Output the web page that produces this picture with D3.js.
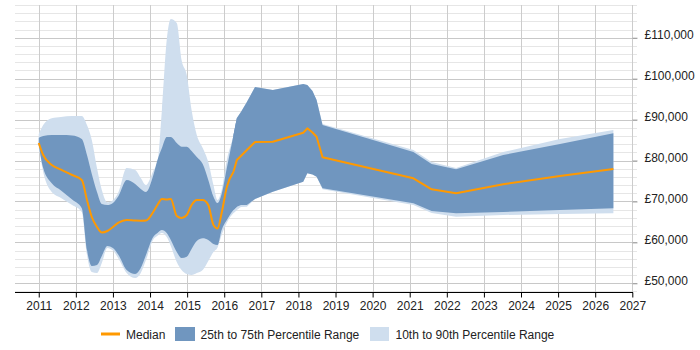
<!DOCTYPE html>
<html><head><meta charset="utf-8">
<script src="https://cdn.jsdelivr.net/npm/d3@7"></script>
<style>body{margin:0;background:#fff;} svg{display:block;font-family:"Liberation Sans",Arial,sans-serif;}</style>
</head><body><svg id="c" width="700" height="350"></svg>
<script>
const years = [2011.0, 2011.12, 2011.35, 2011.6, 2011.9, 2012.16, 2012.3, 2012.43, 2012.57, 2012.7, 2012.85, 2013.0, 2013.15, 2013.37, 2013.6, 2013.75, 2013.89, 2014.09, 2014.2, 2014.32, 2014.45, 2014.56, 2014.72, 2014.85, 2014.99, 2015.12, 2015.26, 2015.42, 2015.57, 2015.71, 2015.82, 2015.93, 2016.07, 2016.25, 2016.34, 2016.45, 2016.61, 2016.83, 2017.31, 2018.13, 2018.24, 2018.38, 2018.49, 2018.65, 2021.1, 2021.59, 2022.25, 2023.52, 2025.05, 2026.49];
const median = [84280,81340,78900,77780,76460,75240,70360,66200,63750,62400,62780,63750,64800,65460,65340,65300,65340,67490,69130,70600,70470,70600,66440,65950,66690,69130,70350,70350,69130,64240,63390,67170,73530,77260,80120,81100,82560,84520,84590,86790,87870,86840,85810,80780,75650,72960,71990,74190,76210,77920];
const p75 = [85570,85990,86230,86230,86110,85250,81340,76700,72300,69370,69130,69620,71330,75240,74260,73040,72300,76460,80120,83050,85740,85740,84270,83370,83370,82320,80860,79140,75240,71160,69620,71820,78170,86230,90380,91850,94290,97960,97220,98690,98440,96980,94780,88670,82080,79140,77850,81340,84030,86650];
const p25 = [83790,78170,74430,72670,70470,68320,58140,54230,54470,56670,59110,58620,56910,53250,52270,53740,56910,61380,62290,63020,62290,60580,57650,56180,56500,58380,60330,60990,60580,59600,59360,63020,65460,67910,68710,69130,69130,70600,72380,74820,76870,76580,76040,73210,69540,67660,67100,67420,67910,68320];
const p90 = [86470,88670,90310,90630,90870,90870,88670,85010,78170,72790,69800,70300,72300,78170,77680,75730,74010,77500,79630,92340,109440,114570,113590,104550,100890,92340,86230,83050,79630,74010,70350,72790,80120,86230,90380,91850,94290,97960,97220,98690,98440,96980,94780,88910,82570,79630,78170,82080,85260,87450];
const p10 = [83300,77190,72300,70840,69130,67420,57000,52760,52520,54960,58620,58000,56000,52520,51300,52520,55690,60700,61600,62300,61300,59110,55200,53250,52270,52030,52520,53250,55450,57650,58750,61800,64800,67170,67910,68640,68700,70600,72380,74820,76870,76580,76040,72960,69130,67170,66270,66690,66930,67100];
const xTicks = d3.range(2011, 2028);
const yMajor = [50000,60000,70000,80000,90000,100000,110000];
const legendLabels = ["Median","25th to 75th Percentile Range","10th to 90th Percentile Range"];

const colMedian = "#ff9900", colDark = "#7096bf", colLight = "#cfdeee";
const svg = d3.select("#c");
const x = d3.scaleLinear().domain([2010.36, 2027]).range([15, 632.3]);
const y = d3.scaleLinear().domain([47800, 118000]).range([292.3, 5]);
const data = years.map((yr,i)=>({yr, m:median[i], a:p25[i], b:p75[i], c:p10[i], d:p90[i]}));
const split = 33;
const early = data.slice(0, split + 2), late = data.slice(split);

const g = svg.append("g");
g.selectAll("line.minor").data(d3.range(48000, 118001, 2000).filter(v=>v%10000!==0)).join("line")
  .attr("x1",15).attr("x2",637).attr("y1",d=>Math.round(y(d))+0.5).attr("y2",d=>Math.round(y(d))+0.5)
  .attr("stroke","#e6e6e6").attr("stroke-width",1);
g.selectAll("line.major").data(yMajor).join("line")
  .attr("x1",15).attr("x2",637).attr("y1",d=>Math.round(y(d))+0.5).attr("y2",d=>Math.round(y(d))+0.5)
  .attr("stroke","#c8c8c8").attr("stroke-width",1);
g.selectAll("line.v").data(xTicks).join("line")
  .attr("x1",d=>Math.round(x(d))+0.5).attr("x2",d=>Math.round(x(d))+0.5).attr("y1",5).attr("y2",292)
  .attr("stroke","#cccccc").attr("stroke-width",1);

function bands(seg, curve){
  svg.append("path").datum(seg).attr("fill",colLight)
    .attr("d", d3.area().curve(curve).x(d=>x(d.yr)).y0(d=>y(d.c)).y1(d=>y(d.d)));
}
function dark(seg, curve){
  svg.append("path").datum(seg).attr("fill",colDark)
    .attr("d", d3.area().curve(curve).x(d=>x(d.yr)).y0(d=>y(d.a)).y1(d=>y(d.b)));
}
function med(seg, curve){
  svg.append("path").datum(seg).attr("fill","none").attr("stroke",colMedian).attr("stroke-width",2)
    .attr("stroke-linejoin","round")
    .attr("d", d3.line().curve(curve).x(d=>x(d.yr)).y(d=>y(d.m)));
}
bands(early, d3.curveMonotoneX); bands(late, d3.curveLinear);
dark(early, d3.curveMonotoneX); dark(late, d3.curveLinear);
med(data.slice(0, split + 1), d3.curveMonotoneX); med(late, d3.curveLinear);

const xa = svg.append("g").attr("transform","translate(0,292.5)")
  .call(d3.axisBottom(x).tickValues(xTicks).tickFormat(d3.format("d")).tickSize(5).tickSizeOuter(0));
xa.select(".domain").attr("stroke","#000").attr("d","M15,0H633");
xa.selectAll(".tick line").attr("stroke","#000");
xa.selectAll("text").attr("font-size","12px").attr("fill","#222").attr("dy","0.8em").attr("font-family","Liberation Sans, Arial, sans-serif");

const ya = svg.append("g").attr("transform","translate(632.5,0)")
  .call(d3.axisRight(y).tickValues(yMajor).tickFormat(d=>"£"+d3.format(",")(d)).tickSize(5));
ya.select(".domain").remove();
ya.selectAll(".tick line").attr("stroke","#999");
ya.selectAll("text").attr("font-size","12px").attr("fill","#222").attr("x",12).attr("dy","0.1em").attr("font-family","Liberation Sans, Arial, sans-serif");

const lg = svg.append("g").attr("font-size","12px").attr("fill","#222");
lg.append("line").attr("x1",101).attr("x2",120).attr("y1",334).attr("y2",334).attr("stroke",colMedian).attr("stroke-width",3);
lg.append("text").attr("x",126).attr("y",338.5).text(legendLabels[0]);
lg.append("rect").attr("x",175).attr("y",327).attr("width",20).attr("height",14).attr("fill",colDark);
lg.append("text").attr("x",200.5).attr("y",338.5).text(legendLabels[1]);
lg.append("rect").attr("x",370).attr("y",327).attr("width",19).attr("height",14).attr("fill",colLight);
lg.append("text").attr("x",395.5).attr("y",338.5).text(legendLabels[2]);
</script></body></html>
